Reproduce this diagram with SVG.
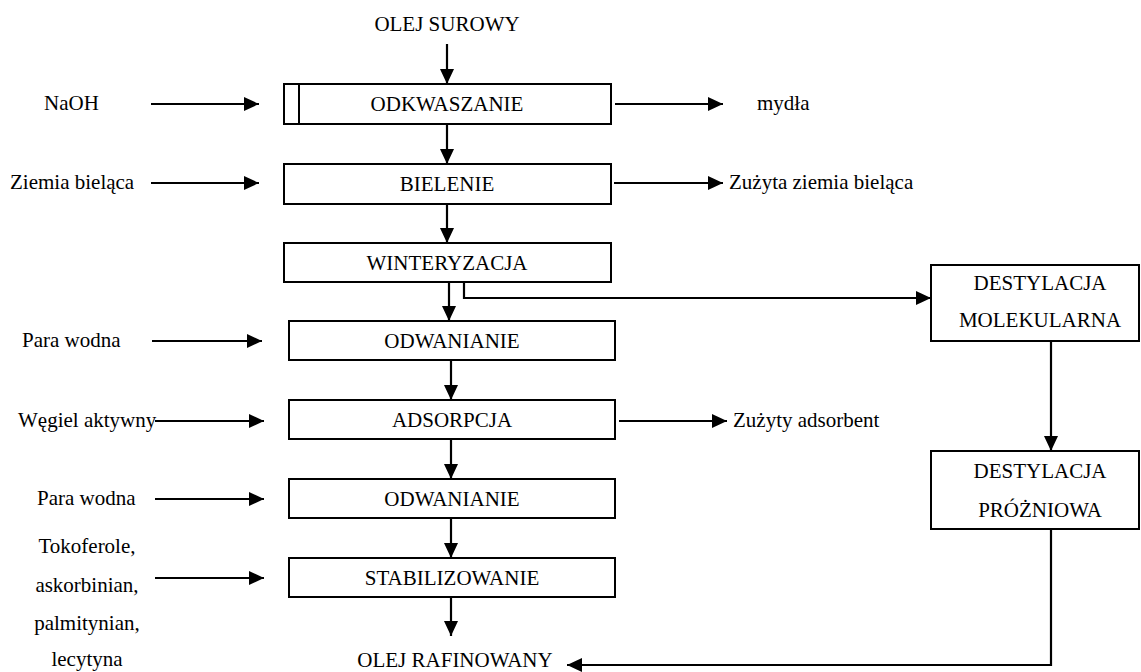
<svg xmlns="http://www.w3.org/2000/svg" width="1141" height="672" viewBox="0 0 1141 672">
<style>
text{font-size:21px;fill:#000}
.c{text-anchor:middle}
.box{fill:#fff;stroke:#000;stroke-width:2}
.ln{fill:none;stroke:#000;stroke-width:2.2}
.ar{marker-end:url(#ah)}
</style>
<defs>
<marker id="ah" markerUnits="userSpaceOnUse" markerWidth="15" markerHeight="14" refX="15" refY="7" orient="auto">
<path d="M0,0 L15,7 L0,14 z" fill="#000"/>
</marker>
</defs>
<rect width="1141" height="672" fill="#fff"/>

<g id="connectors">
<line class="ln ar" x1="447" y1="44" x2="447" y2="84"/>
<line class="ln ar" x1="447" y1="125" x2="447" y2="164"/>
<line class="ln ar" x1="447" y1="204" x2="447" y2="243"/>
<line class="ln ar" x1="449" y1="282" x2="449" y2="321"/>
<polyline class="ln ar" points="464,282 464,298 931,298"/>
<line class="ln ar" x1="451" y1="360" x2="451" y2="400"/>
<line class="ln ar" x1="451" y1="439" x2="451" y2="479"/>
<line class="ln ar" x1="451" y1="518" x2="451" y2="558"/>
<line class="ln ar" x1="451" y1="597" x2="451" y2="636"/>
<line class="ln ar" x1="1051" y1="341" x2="1051" y2="451"/>
<polyline class="ln ar" points="1051,529 1051,665 567,665"/>
<line class="ln ar" x1="151" y1="104" x2="259" y2="104"/>
<line class="ln ar" x1="151" y1="183" x2="259" y2="183"/>
<line class="ln ar" x1="152" y1="341" x2="262" y2="341"/>
<line class="ln ar" x1="155" y1="421" x2="264" y2="421"/>
<line class="ln ar" x1="155" y1="499" x2="264" y2="499"/>
<line class="ln ar" x1="155" y1="578" x2="264" y2="578"/>
<line class="ln ar" x1="615" y1="104" x2="723" y2="104"/>
<line class="ln ar" x1="614" y1="183" x2="723" y2="183"/>
<line class="ln ar" x1="619" y1="421" x2="727" y2="421"/>
</g>

<g font-family="'Liberation Serif', 'Times New Roman', 'DejaVu Serif', serif">
<g id="olej-surowy"><text class="c" x="447" y="31">OLEJ SUROWY</text></g>
<g id="odkwaszanie">
<rect class="box" x="284" y="84" width="327" height="40"/>
<line x1="299" y1="84" x2="299" y2="124" stroke="#000" stroke-width="2"/>
<text class="c" x="447" y="111">ODKWASZANIE</text>
</g>
<g id="bielenie">
<rect class="box" x="284" y="164" width="327" height="40"/>
<text class="c" x="447" y="191">BIELENIE</text>
</g>
<g id="winteryzacja">
<rect class="box" x="284" y="243" width="327" height="39"/>
<text class="c" x="447" y="270">WINTERYZACJA</text>
</g>
<g id="odwanianie1">
<rect class="box" x="289" y="321" width="326" height="39"/>
<text class="c" x="452" y="348">ODWANIANIE</text>
</g>
<g id="adsorpcja">
<rect class="box" x="289" y="400" width="326" height="39"/>
<text class="c" x="452" y="427">ADSORPCJA</text>
</g>
<g id="odwanianie2">
<rect class="box" x="289" y="479" width="326" height="39"/>
<text class="c" x="452" y="506">ODWANIANIE</text>
</g>
<g id="stabilizowanie">
<rect class="box" x="289" y="558" width="326" height="39"/>
<text class="c" x="452" y="585">STABILIZOWANIE</text>
</g>
<g id="olej-rafinowany"><text class="c" x="455" y="667">OLEJ RAFINOWANY</text></g>
<g id="destylacja-molekularna">
<rect class="box" x="931" y="265" width="208" height="76"/>
<text class="c" x="1040" y="290">DESTYLACJA</text>
<text class="c" x="1040" y="327">MOLEKULARNA</text>
</g>
<g id="destylacja-prozniowa">
<rect class="box" x="931" y="451" width="208" height="78"/>
<text class="c" x="1040" y="478">DESTYLACJA</text>
<text class="c" x="1040" y="517">PRÓŻNIOWA</text>
</g>

<g id="inputs">
<text x="44" y="110">NaOH</text>
<text x="10" y="189">Ziemia bieląca</text>
<text x="22" y="347">Para wodna</text>
<text x="18" y="427">Węgiel aktywny</text>
<text x="37" y="505">Para wodna</text>
<text class="c" x="87" y="553">Tokoferole,</text>
<text class="c" x="87" y="592">askorbinian,</text>
<text class="c" x="87" y="630">palmitynian,</text>
<text class="c" x="87" y="666">lecytyna</text>
</g>
<g id="outputs">
<text x="757" y="110">mydła</text>
<text x="729" y="189">Zużyta ziemia bieląca</text>
<text x="733" y="427">Zużyty adsorbent</text>
</g>
</g>
</svg>
